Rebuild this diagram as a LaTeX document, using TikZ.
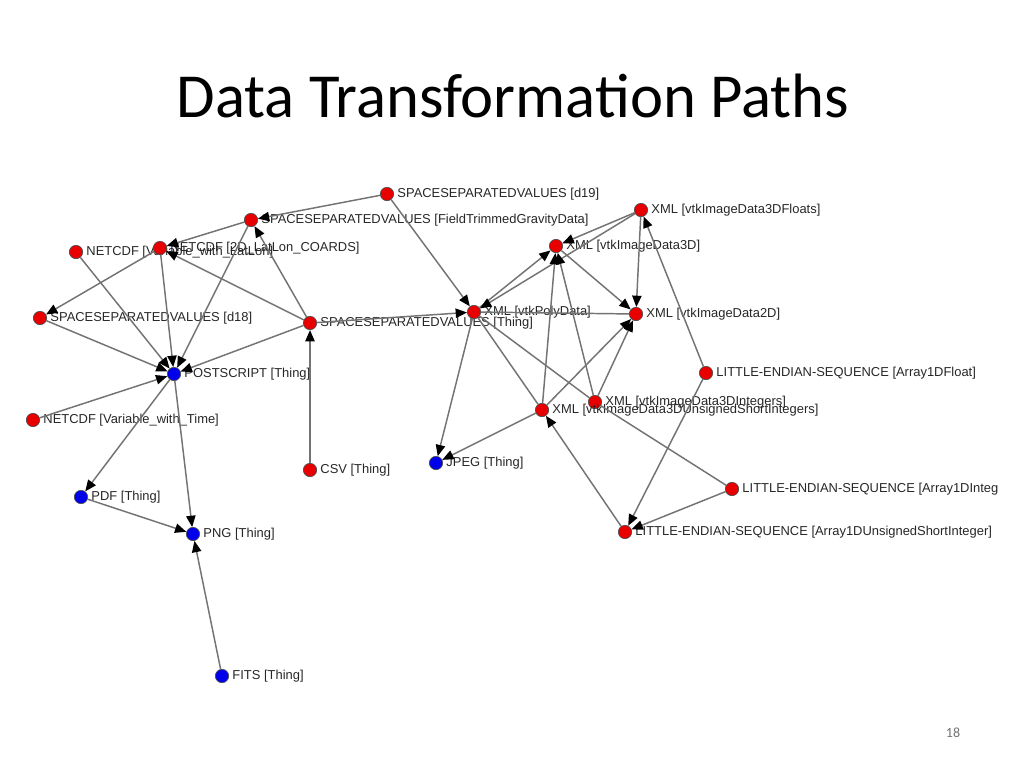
\documentclass[tikz,border=0pt]{standalone}
\usepackage{fontspec}
\usepackage{tikz}
\usetikzlibrary{arrows.meta}
\setmainfont{Liberation Sans}
\newfontfamily\titlefont{Carlito}
\definecolor{dtpred}{RGB}{232,0,0}
\definecolor{dtpblue}{RGB}{0,0,235}
\definecolor{dtpgray}{RGB}{115,115,115}

\begin{document}
\begin{tikzpicture}[x=0.75pt,y=-0.75pt]
            \tikzset{
            dtp node/.style={circle,draw=black!70,line width=0.5pt,minimum size=10pt,inner sep=0},
            dtp red/.style={dtp node,fill=dtpred},
            dtp blue/.style={dtp node,fill=dtpblue},
            dtp label/.style={font=\fontsize{9.7}{10}\selectfont,inner sep=2.4pt,text=black!85},
            dtp line/.style={draw=dtpgray,line width=1.1pt},
            dtp arrow/.style={dtp line,-{Triangle[length=8.5pt,width=7pt,color=black]}}
            }
            \useasboundingbox (0,0) rectangle (1024,768);
            \node[anchor=base,font=\titlefont\fontsize{47}{52}\selectfont] (title) at (513,117) {Data Transformation Paths};
            \node[font=\titlefont\fontsize{10.5}{12}\selectfont,text=black!55] (page) at (953,733) {18};

            % left group
            \node[dtp red,label={[dtp label]0:{SPACESEPARATEDVALUES [d19]}}] (d19) at (387,194) {};
            \node[dtp red,label={[dtp label]0:{SPACESEPARATEDVALUES [FieldTrimmedGravityData]}}] (ftg) at (251,220) {};
            \node[dtp red,label={[dtp label]0:{NETCDF [Variable\_with\_LatLon]}}] (nclatlon) at (76,252) {};
            \node[dtp red,label={[dtp label]0:{NETCDF [2D\_LatLon\_COARDS]}}] (nccoards) at (160,248) {};
            \node[dtp red,label={[dtp label]0:{SPACESEPARATEDVALUES [d18]}}] (d18) at (40,318) {};
            \node[dtp red,label={[dtp label]0:{SPACESEPARATEDVALUES [Thing]}}] (ssv) at (310,323) {};
            \node[dtp blue,label={[dtp label]0:{POSTSCRIPT [Thing]}}] (ps) at (174,374) {};
            \node[dtp red,label={[dtp label]0:{NETCDF [Variable\_with\_Time]}}] (nctime) at (33,420) {};
            \node[dtp red,label={[dtp label]0:{CSV [Thing]}}] (csv) at (310,470) {};
            \node[dtp blue,label={[dtp label]0:{PDF [Thing]}}] (pdf) at (81,497) {};
            \node[dtp blue,label={[dtp label]0:{PNG [Thing]}}] (png) at (193,534) {};
            \node[dtp blue,label={[dtp label]0:{FITS [Thing]}}] (fits) at (222,676) {};

            % right group
            \node[dtp red,label={[dtp label]0:{XML [vtkPolyData]}}] (poly) at (474,312) {};
            \node[dtp red,label={[dtp label]0:{XML [vtkImageData3DFloats]}}] (floats) at (641,210) {};
            \node[dtp red,label={[dtp label]0:{XML [vtkImageData3D]}}] (img3d) at (556,246) {};
            \node[dtp red,label={[dtp label]0:{XML [vtkImageData2D]}}] (img2d) at (636,314) {};
            \node[dtp red,label={[dtp label]0:{LITTLE-ENDIAN-SEQUENCE [Array1DFloat]}}] (afloat) at (706,373) {};
            \node[dtp red,label={[dtp label]0:{XML [vtkImageData3DIntegers]}}] (ints) at (595,402) {};
            \node[dtp red,label={[dtp label]0:{XML [vtkImageData3DUnsignedShortIntegers]}}] (usints) at (542,410) {};
            \node[dtp blue,label={[dtp label]0:{JPEG [Thing]}}] (jpeg) at (436,463) {};
            \node[dtp red,label={[dtp label]0:{LITTLE-ENDIAN-SEQUENCE [Array1DInteg}}] (aint) at (732,489) {};
            \node[dtp red,label={[dtp label]0:{LITTLE-ENDIAN-SEQUENCE [Array1DUnsignedShortInteger]}}] (ausint) at (625,532) {};

            \path[dtp arrow]
            (d19) edge (ftg)
            (ftg) edge (nccoards)
            (ssv) edge (ftg)
            (ftg) edge (ps)
            (ssv) edge (nccoards)
            (nccoards) edge (d18)
            (nccoards) edge (ps)
            (nclatlon) edge (ps)
            (d18) edge (ps)
            (ssv) edge (ps)
            (nctime) edge (ps)
            (ps) edge (pdf)
            (ps) edge (png)
            (pdf) edge (png)
            (fits) edge (png)
            (csv) edge (ssv)
            (d19) edge (poly)
            (ssv) edge (poly)
            (poly) edge (img3d)
            (floats) edge (poly)
            (floats) edge (img3d)
            (img3d) edge (img2d)
            (floats) edge (img2d)
            (usints) edge (img3d)
            (ints) edge (img3d)
            (usints) edge (img2d)
            (ints) edge (img2d)
            (poly) edge (jpeg)
            (usints) edge (jpeg)
            (afloat) edge (floats)
            (afloat) edge (ausint)
            (aint) edge (ausint)
            (ausint) edge (usints)
            ;

            \path[dtp line]
            (poly) edge (img2d)
            (poly) edge (usints)
            (poly) edge (ints)
            (ints) edge (aint)
            ;
        \end{tikzpicture}
\end{document}
